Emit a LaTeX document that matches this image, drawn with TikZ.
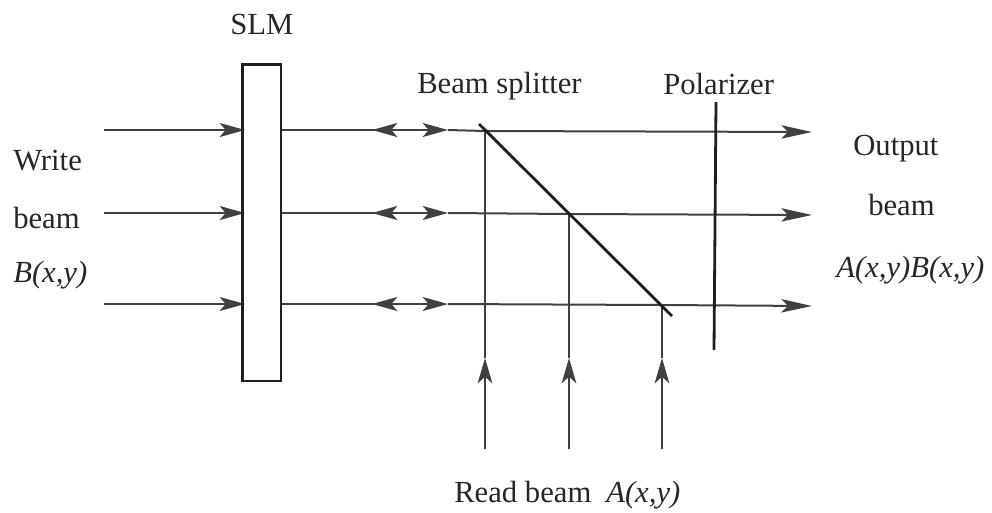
\documentclass[tikz,border=0pt]{standalone}
\usepackage{fontspec}
\setmainfont{Liberation Serif}
\usetikzlibrary{arrows.meta}
\tikzset{
  x=0.75pt,y=-0.75pt,
  beam/.style={draw=black!75,line width=1.5pt},
  tipped/.style={beam,-{Stealth[length=19pt,width=10.5pt,inset=4.5pt]}},
  tippedo/.style={beam,-{Stealth[length=23pt,width=10pt,inset=5pt]}},
  tippedv/.style={beam,-{Stealth[length=19pt,width=11pt,inset=5pt]}},
  optic/.style={draw=black!88,line width=2.1pt,line cap=butt},
  lab/.style={font=\fontsize{23}{26}\selectfont,inner sep=0pt,text=black!85,anchor=base west},
  ilab/.style={lab,font=\fontsize{23}{26}\selectfont\itshape},
}
\begin{document}
\begin{tikzpicture}
\useasboundingbox (0,0) rectangle (992,512);
\foreach \n/\y/\yb/\yo/\vx in {a/130/131/132/485,b/213/214/215/569,c/304/305/306/662}{
  \coordinate (in\n) at (104,\y);
  \coordinate (slmin\n) at (245,\y);
  \coordinate (slmout\n) at (281,\y);
  \coordinate (ltip\n) at (372,\y);
  \coordinate (ltail\n) at (397,\y);
  \coordinate (rtail\n) at (422,\y);
  \coordinate (rtip\n) at (448,\y);
  \coordinate (bs\n) at (\vx,\yb);
  \coordinate (out\n) at (812,\yo);
  \coordinate (rb\n) at (\vx,449);
  \coordinate (rbtip\n) at (\vx,358);
  \draw[tipped] (in\n) -- (slmin\n);
  \draw[tipped] (ltail\n) -- (ltip\n);
  \draw[tipped] (rtail\n) -- (rtip\n);
  \draw[beam] (slmout\n) -- (ltail\n);
  \draw[beam] (ltail\n) -- (rtail\n);
  \draw[beam] (rtip\n) -- (bs\n);
  \draw[tippedo] (bs\n) -- (out\n);
  \draw[tippedv] (rb\n) -- (rbtip\n);
  \draw[beam] (rbtip\n) -- (bs\n);
}
\node[draw=black!88,line width=1.9pt,minimum width=29.2pt,minimum height=237.5pt,inner sep=0pt,anchor=north west] (slm) at (241,63) {};
\coordinate (s1) at (479,124);
\coordinate (s2) at (672,316);
\draw[optic] (s1) -- (s2);
\coordinate (p1) at (716,102);
\coordinate (p2) at (714,350);
\draw[optic] (p1) -- (p2);
\node[lab] (lslm) at (230,34) {SLM};
\node[lab] (lbs) at (417,93) {Beam splitter};
\node[lab] (lpol) at (663,94) {Polarizer};
\node[lab] (lw) at (13,170) {Write};
\node[lab] (lb) at (13,228) {beam};
\node[ilab] (lbxy) at (13,282) {B(x,y)};
\node[lab] (lo) at (853,155) {Output};
\node[lab] (lob) at (868,215) {beam};
\node[ilab] (lab1) at (836,277) {A(x,y)B(x,y)};
\node[lab] (lr) at (454,502) {Read beam};
\node[ilab] (lrxy) at (606,502) {A(x,y)};
\end{tikzpicture}
\end{document}
